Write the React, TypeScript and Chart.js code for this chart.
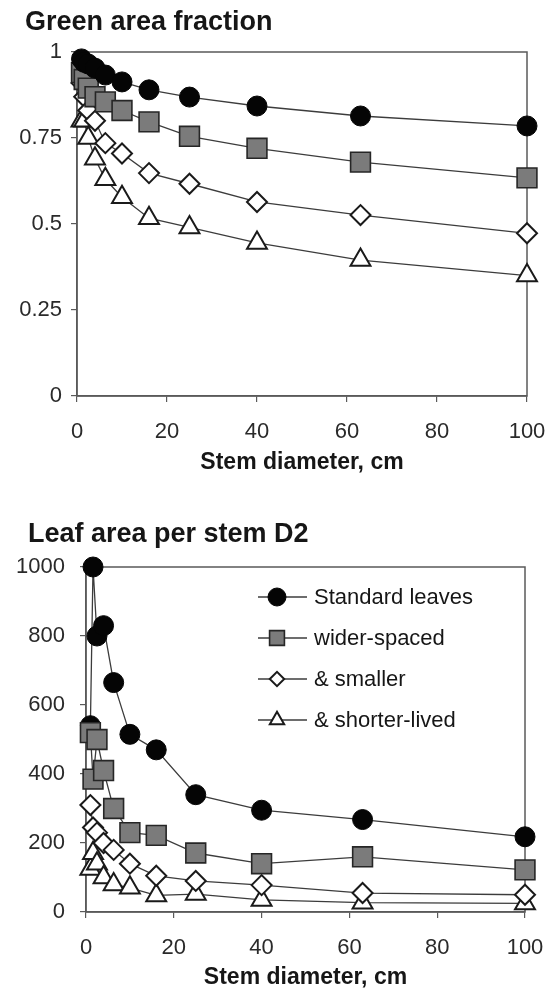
import React, { useEffect, useRef } from "react";
import { Chart, registerables } from "chart.js";
import { drawPoint } from "chart.js/helpers";

Chart.register(...registerables);

// ---------- data ----------
const diameters = [1, 1.6, 2.5, 4, 6.3, 10, 16, 25, 40, 63, 100];
const seriesNames = ["Standard leaves", "wider-spaced", "& smaller", "& shorter-lived"];

const greenStandard = [0.98, 0.97, 0.965, 0.953, 0.933, 0.913, 0.89, 0.869, 0.843, 0.814, 0.785];
const greenWider = [0.94, 0.92, 0.895, 0.87, 0.855, 0.83, 0.797, 0.755, 0.72, 0.68, 0.634];
const greenSmaller = [0.91, 0.87, 0.83, 0.8, 0.735, 0.705, 0.648, 0.617, 0.564, 0.526, 0.473];
const greenShorter = [0.8, 0.8, 0.75, 0.69, 0.63, 0.578, 0.517, 0.49, 0.445, 0.395, 0.35];

const leafStandard = [540, 1000, 800, 830, 665, 515, 470, 340, 295, 268, 218];
const leafWider = [520, 385, 500, 410, 300, 230, 222, 171, 140, 160, 122];
const leafSmaller = [310, 245, 230, 200, 180, 140, 105, 90, 78, 55, 50];
const leafShorter = [125, 170, 140, 100, 80, 70, 48, 52, 35, 27, 25];

const xTicks = [0, 20, 40, 60, 80, 100];
const greenTicks = [0, 0.25, 0.5, 0.75, 1];
const leafTicks = [0, 200, 400, 600, 800, 1000];

const topTitle = "Green area fraction";
const bottomTitle = "Leaf area per stem D2";
const xTitle = "Stem diameter, cm";

// ---------- styles ----------
const FONT = "'Liberation Sans', Arial, Helvetica, sans-serif";
const INK = "#161616";
const TICK_INK = "#2a2a2a";
const AXIS = "#5a5a5a";
const LINE = "#3c3c3c";

const markers = [
  { style: "circle", r: 10, bg: "#050505", border: "#050505", bw: 1, legendScale: 0.9 },
  { style: "rect", r: 14, bg: "#7b7b7b", border: "#262626", bw: 1.6, legendScale: 0.75 },
  { style: "rectRot", r: 10, bg: "#ffffff", border: "#1a1a1a", bw: 2, legendScale: 0.72 },
  { style: "triangle", r: 11.5, bg: "#ffffff", border: "#1a1a1a", bw: 2, legendScale: 0.72 },
];

const framePlugin = {
  id: "frame",
  beforeDatasetsDraw(chart: any) {
    const { ctx, chartArea } = chart;
    ctx.save();
    ctx.strokeStyle = AXIS;
    ctx.lineWidth = 1.5;
    ctx.strokeRect(chartArea.left, chartArea.top, chartArea.right - chartArea.left, chartArea.bottom - chartArea.top);
    ctx.restore();
  },
};

const panelTitlePlugin = {
  id: "panelTitle",
  afterDraw(chart: any, _args: any, opts: any) {
    if (!opts || !opts.text) return;
    const { ctx } = chart;
    ctx.save();
    ctx.fillStyle = INK;
    ctx.font = `bold 27px ${FONT}`;
    ctx.textAlign = "left";
    ctx.textBaseline = "middle";
    ctx.fillText(opts.text, opts.x, opts.y);
    ctx.restore();
  },
};

const lineLegendPlugin = {
  id: "lineLegend",
  afterDraw(chart: any) {
    const { ctx, chartArea } = chart;
    ctx.save();
    chart.data.datasets.forEach((ds: any, i: number) => {
      const y = chartArea.top + 30 + i * 41;
      const xm = chartArea.left + 191;
      ctx.strokeStyle = LINE;
      ctx.lineWidth = 1.3;
      ctx.beginPath();
      ctx.moveTo(xm - 19, y);
      ctx.lineTo(xm + 30, y);
      ctx.stroke();
      const m = markers[i];
      ctx.fillStyle = m.bg;
      ctx.strokeStyle = m.border;
      ctx.lineWidth = m.bw;
      drawPoint(ctx, { pointStyle: m.style, radius: m.r * m.legendScale, rotation: 0, borderWidth: m.bw } as any, xm, y);
      ctx.fillStyle = INK;
      ctx.font = `22px ${FONT}`;
      ctx.textBaseline = "middle";
      ctx.textAlign = "left";
      ctx.fillText(ds.label, xm + 37, y + 1);
    });
    ctx.restore();
  },
};

type Cfg = {
  title: string;
  titleX: number;
  titleY: number;
  series: number[][];
  order: number[];
  yMax: number;
  yTicks: number[];
  padding: { left: number; right: number; top: number; bottom: number };
  yWidth: number;
  yTickPad: number;
  xHeight: number;
  xTitlePadBottom: number;
  legend: boolean;
};

const plainLabel = (v: any) => String(Math.round(Number(v) * 1000) / 1000);

function buildConfig(p: Cfg): any {
  return {
    type: "scatter",
    data: {
      datasets: p.series.map((vals, i) => ({
        label: seriesNames[i],
        data: diameters.map((x, j) => ({ x, y: vals[j] })),
        showLine: true,
        borderColor: LINE,
        borderWidth: 1.3,
        pointStyle: markers[i].style,
        pointRadius: markers[i].r,
        pointHoverRadius: markers[i].r,
        pointBackgroundColor: markers[i].bg,
        pointBorderColor: markers[i].border,
        pointBorderWidth: markers[i].bw,
        order: p.order[i],
        clip: false,
      })),
    },
    options: {
      responsive: false,
      animation: false,
      events: [],
      layout: { padding: p.padding },
      plugins: {
        legend: { display: false },
        tooltip: { enabled: false },
        title: { display: false },
        panelTitle: { text: p.title, x: p.titleX, y: p.titleY },
      },
      scales: {
        x: {
          type: "linear",
          min: xTicks[0],
          max: xTicks[xTicks.length - 1],
          afterFit: (s: any) => {
            s.height = p.xHeight;
          },
          afterBuildTicks: (s: any) => {
            s.ticks = xTicks.map((v) => ({ value: v }));
          },
          ticks: {
            font: { family: FONT, size: 22, lineHeight: 2.45 },
            color: TICK_INK,
            padding: 3,
            maxRotation: 0,
            autoSkip: false,
            callback: plainLabel,
          },
          grid: { drawOnChartArea: false, drawTicks: true, tickLength: 6, color: AXIS, lineWidth: 1.2 },
          border: { display: true, color: AXIS, width: 1.5 },
          title: {
            display: true,
            text: xTitle,
            color: INK,
            font: { family: FONT, size: 23, weight: "bold" },
            padding: { top: 0, bottom: p.xTitlePadBottom },
          },
        },
        y: {
          type: "linear",
          min: p.yTicks[0],
          max: p.yMax,
          afterFit: (s: any) => {
            s.width = p.yWidth;
          },
          afterBuildTicks: (s: any) => {
            s.ticks = p.yTicks.map((v) => ({ value: v }));
          },
          ticks: {
            font: { family: FONT, size: 22 },
            color: TICK_INK,
            padding: p.yTickPad,
            autoSkip: false,
            callback: plainLabel,
          },
          grid: { drawOnChartArea: false, drawTicks: true, tickLength: 6, color: AXIS, lineWidth: 1.2 },
          border: { display: true, color: AXIS, width: 1.5 },
        },
      },
    },
    plugins: p.legend ? [framePlugin, panelTitlePlugin, lineLegendPlugin] : [framePlugin, panelTitlePlugin],
  };
}

export default function App() {
  const topRef = useRef<HTMLCanvasElement>(null);
  const botRef = useRef<HTMLCanvasElement>(null);

  useEffect(() => {
    const c1 = new Chart(
      topRef.current as HTMLCanvasElement,
      buildConfig({
        title: topTitle,
        titleX: 25,
        titleY: 23,
        series: [greenStandard, greenWider, greenSmaller, greenShorter],
        order: [0, 1, 2, 3],
        yMax: 1,
        yTicks: greenTicks,
        padding: { left: 0, right: 23, top: 52, bottom: 0 },
        yWidth: 77,
        yTickPad: 9,
        xHeight: 84,
        xTitlePadBottom: 4,
        legend: false,
      })
    );
    const c2 = new Chart(
      botRef.current as HTMLCanvasElement,
      buildConfig({
        title: bottomTitle,
        titleX: 28,
        titleY: 45,
        series: [leafStandard, leafWider, leafSmaller, leafShorter],
        order: [1, 0, 2, 3],
        yMax: 1000,
        yTicks: leafTicks,
        padding: { left: 0, right: 25, top: 77, bottom: 0 },
        yWidth: 86,
        yTickPad: 15,
        xHeight: 79,
        xTitlePadBottom: 0,
        legend: true,
      })
    );
    return () => {
      c1.destroy();
      c2.destroy();
    };
  }, []);

  return (
    <div style={{ position: "absolute", left: 0, top: 0, width: 550, height: 991, background: "#ffffff" }}>
      <canvas
        ref={topRef}
        width={550}
        height={480}
        style={{ position: "absolute", left: 0, top: 0, width: 550, height: 480 }}
      />
      <canvas
        ref={botRef}
        width={550}
        height={501}
        style={{ position: "absolute", left: 0, top: 490, width: 550, height: 501 }}
      />
    </div>
  );
}
